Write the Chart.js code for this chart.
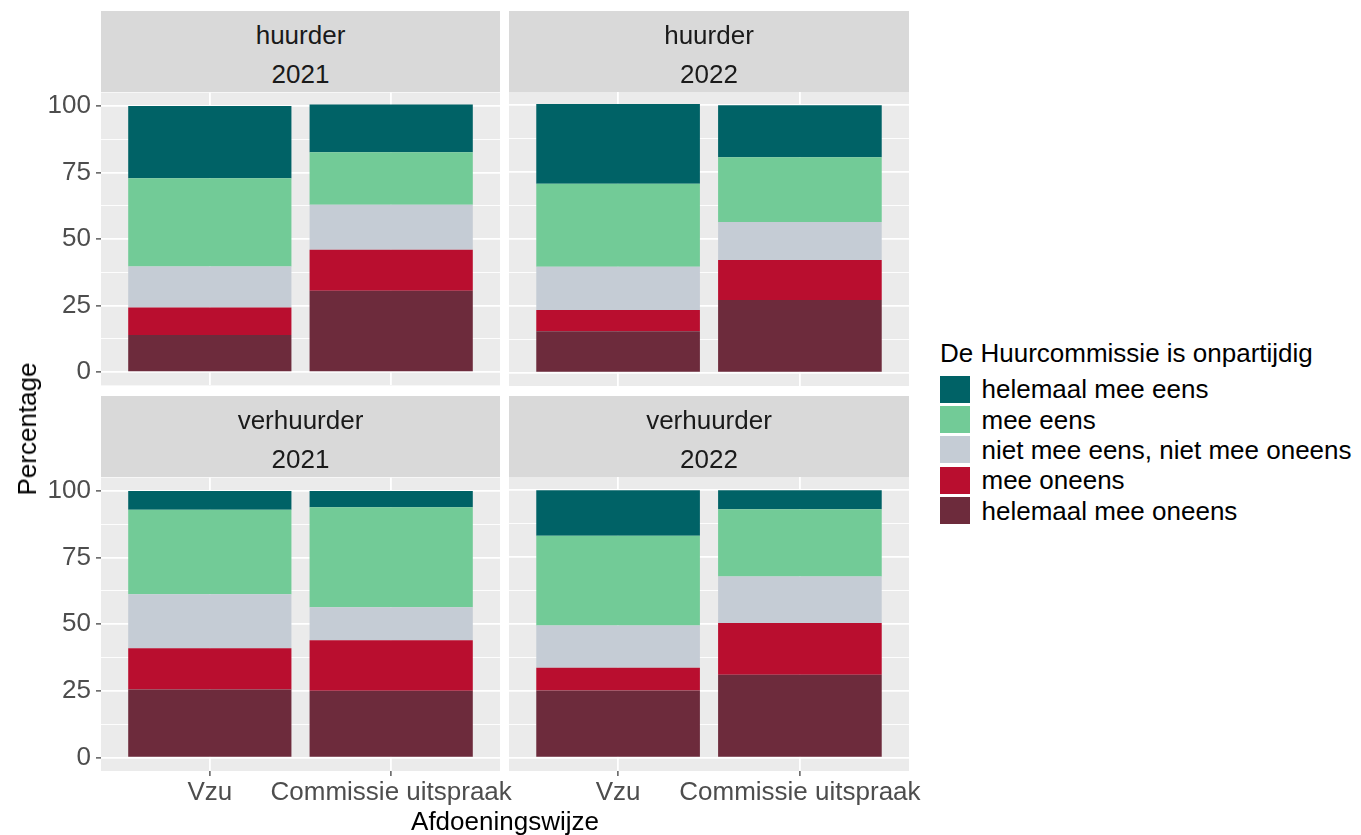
<!DOCTYPE html>
<html>
<head>
<meta charset="utf-8">
<script src="https://cdn.jsdelivr.net/npm/chart.js@4.4.0/dist/chart.umd.min.js"></script>
<style>
html, body { margin: 0; padding: 0; background: #ffffff; }
#wrap { position: relative; width: 1361px; height: 835px; overflow: hidden; font-family: 'Liberation Sans', Arial, sans-serif; }
.t { position: absolute; font-size: 26px; line-height: 26px; white-space: nowrap; }
.strip { position: absolute; background: #D9D9D9; }
.key { position: absolute; width: 30px; height: 27px; }
canvas { position: absolute; }
</style>
</head>
<body>
<div id="wrap"></div>
<script>
// ---------- data ----------
const categories = ['Vzu', 'Commissie uitspraak'];
const roles = ['huurder', 'huurder', 'verhuurder', 'verhuurder'];
const years = ['2021', '2022', '2021', '2022'];
const responseLevels = ['helemaal mee eens', 'mee eens', 'niet mee eens, niet mee oneens', 'mee oneens', 'helemaal mee oneens'];

// values per panel: [Vzu, Commissie uitspraak]
const helemaalMeeEens          = [[27.2, 17.9], [29.8, 19.4], [7.1, 6.1],   [17.0, 7.1]];
const meeEens                  = [[33.1, 19.7], [31.1, 24.2], [31.6, 37.5], [33.6, 25.1]];
const nietMeeEensNietMeeOneens = [[15.4, 16.9], [16.2, 14.3], [20.3, 12.4], [15.8, 17.4]];
const meeOneens                = [[10.4, 15.4], [7.9, 14.9],  [15.4, 18.9], [8.5, 19.4]];
const helemaalMeeOneens        = [[13.9, 30.6], [15.5, 27.2], [25.6, 25.1], [25.1, 31.0]];

const yTickValues = [0, 25, 50, 75, 100];
const yTickLabels = ['0', '25', '50', '75', '100'];

const xTitle = 'Afdoeningswijze';
const yTitle = 'Percentage';
const legendTitle = 'De Huurcommissie is onpartijdig';

// ---------- styles ----------
const levelColors = ['#006266', '#72CB97', '#C5CCD5', '#B90E2F', '#6D2B3C'];
const FONT = "'Liberation Sans', Arial, sans-serif";

// stack order bottom -> top
const seriesTop = [helemaalMeeEens, meeEens, nietMeeEensNietMeeOneens, meeOneens, helemaalMeeOneens];
const stackSeries = seriesTop.slice().reverse();
const stackLabels = responseLevels.slice().reverse();
const stackColors = levelColors.slice().reverse();

const minorValues = yTickValues.slice(0, -1).map((v, i) => (v + yTickValues[i + 1]) / 2);
const gridValues = yTickValues.concat(minorValues).sort((a, b) => a - b);

const wrap = document.getElementById('wrap');

function addText(txt, css) {
  const d = document.createElement('div');
  d.className = 't';
  d.textContent = txt;
  Object.assign(d.style, css);
  wrap.appendChild(d);
  return d;
}

const panelBoxes = [
  { L: 101, R: 500, T: 92,  B: 386 },
  { L: 509, R: 909, T: 92,  B: 386 },
  { L: 101, R: 500, T: 477, B: 771 },
  { L: 509, R: 909, T: 477, B: 771 }
];

const panelBg = {
  id: 'panelBg',
  beforeDraw(chart) {
    const { ctx, chartArea: a } = chart;
    ctx.save();
    ctx.fillStyle = '#EBEBEB';
    ctx.fillRect(a.left, a.top, a.right - a.left, a.bottom - a.top);
    ctx.restore();
  }
};

panelBoxes.forEach((p, i) => {
  const isLeft = i % 2 === 0;
  const isBottom = i >= 2;

  // strip
  const stripTop = p.T - 81;
  const s = document.createElement('div');
  s.className = 'strip';
  Object.assign(s.style, { left: p.L + 'px', top: stripTop + 'px', width: (p.R - p.L) + 'px', height: '81px' });
  wrap.appendChild(s);
  addText(roles[i], { left: p.L + 'px', width: (p.R - p.L) + 'px', textAlign: 'center', top: (stripTop + 11) + 'px', color: '#1A1A1A' });
  addText(years[i], { left: p.L + 'px', width: (p.R - p.L) + 'px', textAlign: 'center', top: (stripTop + 49.7) + 'px', color: '#1A1A1A' });

  const yW = isLeft ? 101 : 0;
  const padT = 20, padR = 30, padB = isBottom ? 0 : 20, xH = isBottom ? 45 : 0;
  const w = yW + (p.R - p.L) + padR;
  const h = padT + (p.B - p.T) + xH + padB;
  const cv = document.createElement('canvas');
  cv.width = w; cv.height = h;
  cv.style.width = w + 'px'; cv.style.height = h + 'px';
  cv.style.left = (p.L - yW) + 'px'; cv.style.top = (p.T - padT) + 'px';
  wrap.appendChild(cv);

  new Chart(cv, {
    type: 'bar',
    data: {
      datasets: stackSeries.map((ser, k) => ({
        label: stackLabels[k],
        data: categories.map((c, j) => ({ x: j + 1, y: ser[i][j] })),
        backgroundColor: stackColors[k],
        borderWidth: 0,
        barPercentage: 0.9,
        categoryPercentage: 1.0
      }))
    },
    options: {
      responsive: false,
      animation: false,
      devicePixelRatio: 1,
      layout: { padding: { top: padT, right: padR, bottom: padB, left: 0 } },
      plugins: { legend: { display: false }, tooltip: { enabled: false } },
      scales: {
        x: {
          type: 'linear', stacked: true, min: 0.4, max: 2.6, offset: false,
          afterBuildTicks: ax => { ax.ticks = categories.map((c, j) => ({ value: j + 1 })); },
          afterFit: ax => { ax.height = xH; },
          ticks: {
            display: isBottom, autoSkip: false, maxRotation: 0, minRotation: 0, padding: 1,
            color: '#4D4D4D', font: { family: FONT, size: 26 },
            callback: v => categories[v - 1]
          },
          grid: { offset: false, color: '#FFFFFF', lineWidth: 1.8, drawTicks: isBottom, tickLength: 5, tickColor: '#333333', tickWidth: 1.2 },
          border: { display: false }
        },
        y: {
          type: 'linear', stacked: true, min: -5, max: 105,
          afterBuildTicks: ax => { ax.ticks = gridValues.map(v => ({ value: v })); },
          afterFit: ax => { ax.width = yW; },
          ticks: {
            display: isLeft, autoSkip: false, padding: 5,
            color: '#4D4D4D', font: { family: FONT, size: 26 },
            callback: v => { const k = yTickValues.indexOf(v); return k >= 0 ? yTickLabels[k] : ''; }
          },
          grid: {
            color: '#FFFFFF',
            lineWidth: ctx => (ctx.tick && yTickValues.includes(ctx.tick.value)) ? 1.8 : 0.9,
            drawTicks: isLeft, tickLength: 5,
            tickColor: ctx => (ctx.tick && yTickValues.includes(ctx.tick.value)) ? '#333333' : 'rgba(0,0,0,0)',
            tickWidth: 1.2
          },
          border: { display: false }
        }
      }
    },
    plugins: [panelBg]
  });
});

// axis titles
const yt = addText(yTitle, { left: '27px', top: '429px', color: '#000000', transform: 'translate(-50%, -50%) rotate(-90deg)' });
addText(xTitle, { left: '101px', width: '808px', textAlign: 'center', top: '808.3px', color: '#000000' });

// legend
addText(legendTitle, { left: '940px', top: '339.7px', color: '#000000' });
responseLevels.forEach((lab, k) => {
  const top = 375.7 + k * 30.3;
  const key = document.createElement('div');
  key.className = 'key';
  Object.assign(key.style, { left: '940px', top: top + 'px', background: levelColors[k] });
  wrap.appendChild(key);
  addText(lab, { left: '981.5px', top: (top + 13.5 - 12.9) + 'px', color: '#000000' });
});
</script>
</body>
</html>
